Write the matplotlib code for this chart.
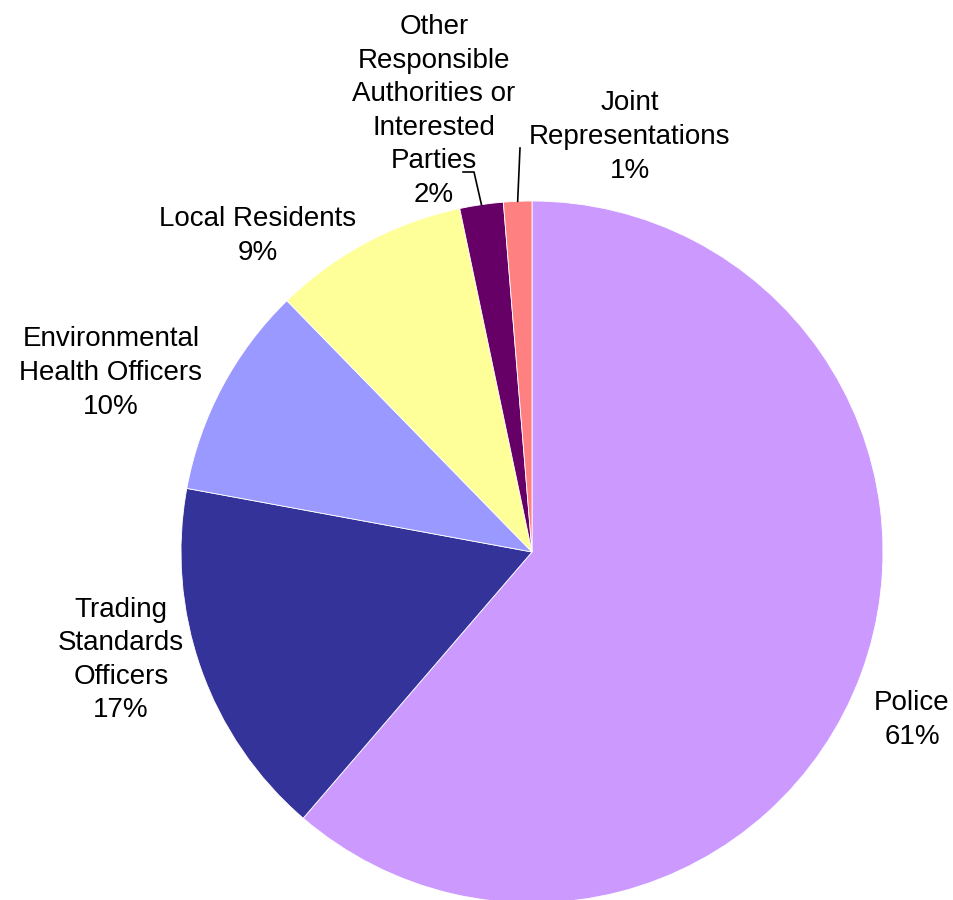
import numpy as np
import matplotlib
matplotlib.use('Agg')
import matplotlib.pyplot as plt

plt.rcParams['font.family'] = ['Liberation Sans', 'DejaVu Sans']

# share of representations by source
names = ['Police', 'Trading\nStandards\nOfficers', 'Environmental\nHealth Officers',
         'Local Residents', 'Other\nResponsible\nAuthorities or\nInterested\nParties',
         'Joint\nRepresentations']
shares = [61.3, 16.6, 9.8, 9.0, 2.0, 1.3]
colours = ['#CC99FF', '#333399', '#9999FF', '#FFFF99', '#660066', '#FF8080']

# label centres in pixels from the top-left corner
label_xy = [(912, 720), (121, 660), (111, 373), (258, 236), (434, 111), (630, 137)]
# elbow points for the labels that need a leader line
leaders = {4: [(463, 172), (474, 172)], 5: [(520, 148)]}

W, H = 954, 900
cx, cy, r = 532, 552, 351

fig = plt.figure(figsize=(W / 100, H / 100), dpi=100)
ax = fig.add_axes([0, 0, 1, 1])

wedges, _ = ax.pie(shares, colors=colours, startangle=90, counterclock=False,
                   center=(cx, H - cy), radius=r,
                   wedgeprops=dict(edgecolor='white', linewidth=0.6))

ax.set_xlim(0, W)
ax.set_ylim(0, H)
ax.set_aspect('equal')
ax.set_axis_off()

for i, (name, v) in enumerate(zip(names, shares)):
    x, y = label_xy[i]
    ax.text(x, H - y, '%s\n%d%%' % (name, round(v)), ha='center', va='center',
            fontsize=20, linespacing=1.38, color='black')
    if i in leaders:
        w = wedges[i]
        mid = np.radians((w.theta1 + w.theta2) / 2)
        end = (cx + r * np.cos(mid), H - cy + r * np.sin(mid))
        pts = [(px, H - py) for px, py in leaders[i]] + [end]
        ax.plot([p[0] for p in pts], [p[1] for p in pts], color='black', lw=1.2)

fig.savefig('out.png', dpi=100)
